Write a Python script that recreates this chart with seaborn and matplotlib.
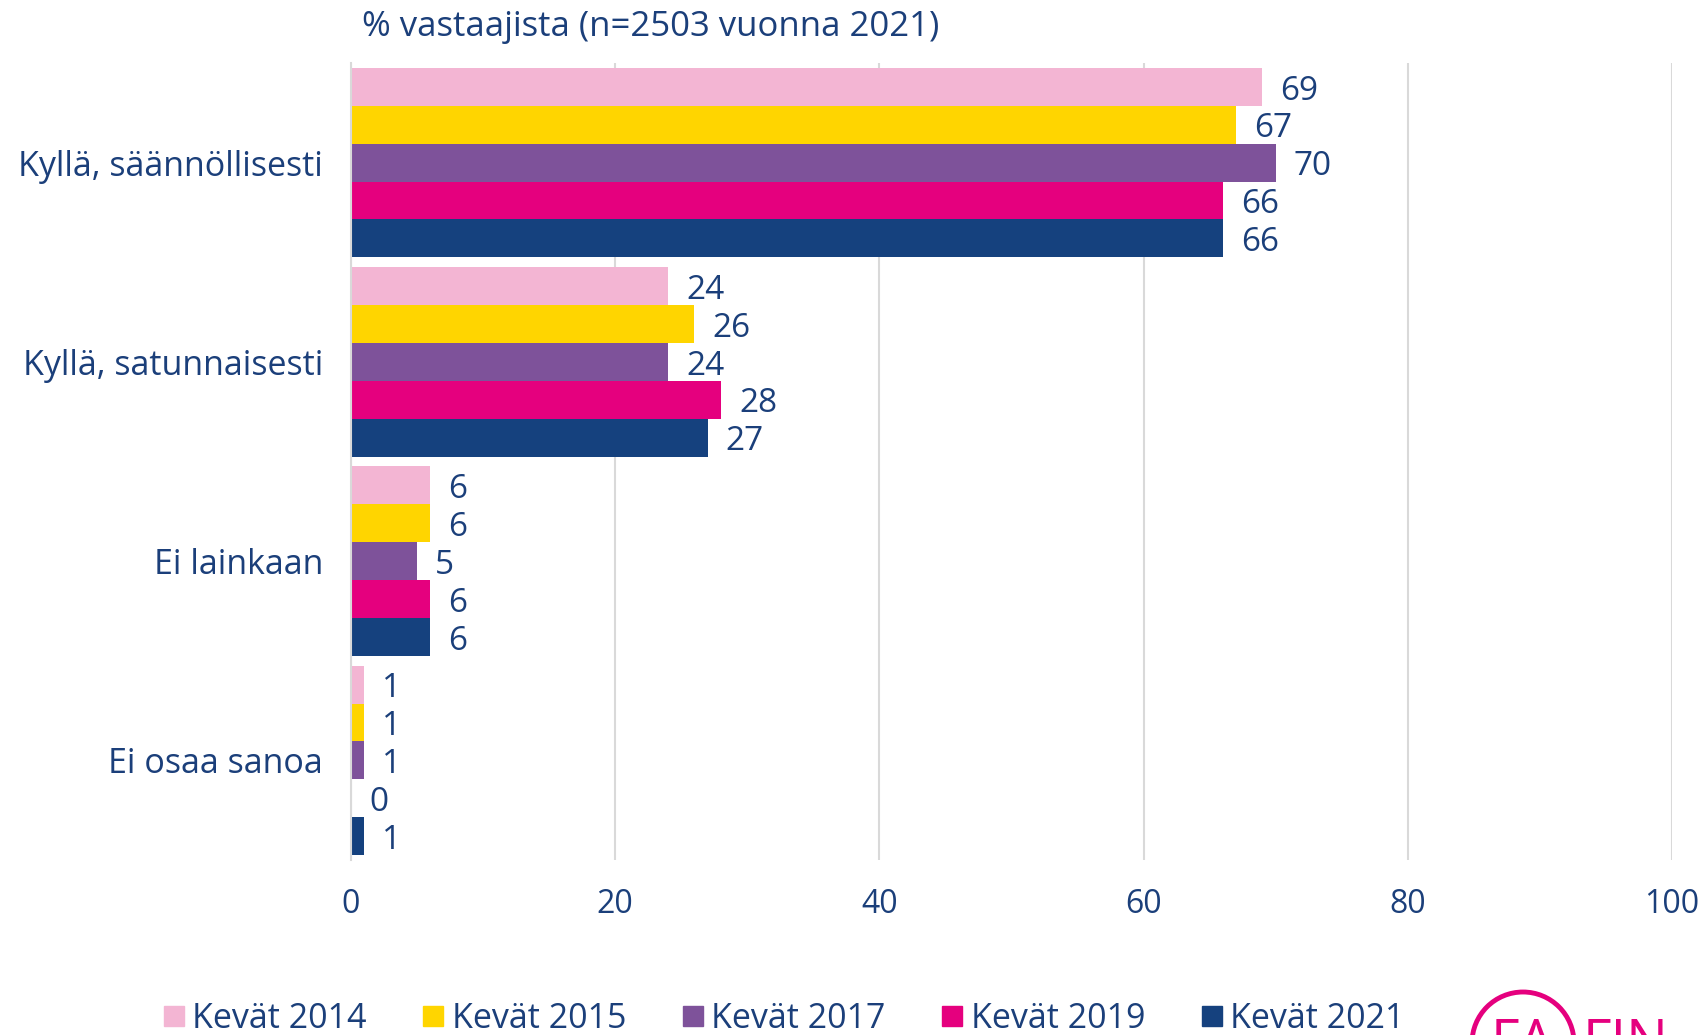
import numpy as np
import pandas as pd
import matplotlib
matplotlib.use("Agg")
import matplotlib.pyplot as plt
import seaborn as sns
from matplotlib.patches import Ellipse
from matplotlib.lines import Line2D

categories = ["Kyllä, säännöllisesti", "Kyllä, satunnaisesti", "Ei lainkaan", "Ei osaa sanoa"]
series = ["Kevät 2014", "Kevät 2015", "Kevät 2017", "Kevät 2019", "Kevät 2021"]
v2014 = [69, 24, 6, 1]
v2015 = [67, 26, 6, 1]
v2017 = [70, 24, 5, 1]
v2019 = [66, 28, 6, 0]
v2021 = [66, 27, 6, 1]
xticks = [0, 20, 40, 60, 80, 100]
title = "% vastaajista (n=2503 vuonna 2021)"

colors = ["#F3B5D3", "#FFD500", "#7E529A", "#E5007E", "#15417E"]
navy = "#1B3F7A"

rows = []
for s, vals in zip(series, [v2014, v2015, v2017, v2019, v2021]):
    for c, v in zip(categories, vals):
        rows.append({"cat": c, "series": s, "val": v})
df = pd.DataFrame(rows)

sns.set_theme(style="white")
plt.rcParams["font.family"] = ["Open Sans", "DejaVu Sans"]

fig = plt.figure(figsize=(17.06, 10.35), dpi=100)
ax = fig.add_axes([351/1706, 1 - 860/1035, (1672-351)/1706, (860-63)/1035])

sns.barplot(data=df, y="cat", x="val", hue="series", order=categories,
            hue_order=series, palette=colors, orient="h", width=0.95,
            ax=ax, legend=False, saturation=1, linewidth=0)

for cont in ax.containers:
    labels = ax.bar_label(cont, padding=13, fontsize=24, color=navy)
    for t in labels:
        t.xyann = (13, -3)

ax.set_xlim(0, 100)
ax.set_ylim(3.5, -0.5)
ax.set_xticks(xticks)
ax.set_xticklabels([str(t) for t in xticks], fontsize=23, color=navy)
ax.tick_params(axis="x", length=0, pad=20)
ax.tick_params(axis="y", length=0, pad=20, labelsize=24.5, labelcolor=navy)
ax.set_xlabel("")
ax.set_ylabel("")
ax.xaxis.grid(True, color="#D9D9D9", linewidth=1.5)
ax.set_axisbelow(True)
for sp in ["top", "right", "bottom"]:
    ax.spines[sp].set_visible(False)
ax.spines["left"].set_color("#D9D9D9")
ax.spines["left"].set_linewidth(1.5)

fig.text(362/1706, 1 - 27/1035, title, fontsize=25, color=navy, ha="left", va="center")

handles = [Line2D([0], [0], marker="s", color="none", markerfacecolor=c,
                  markeredgecolor=c, markersize=15) for c in colors]
fig.legend(handles, series, loc="center left", ncol=5,
           bbox_to_anchor=(160/1706, 1 - 1019/1035), frameon=False,
           fontsize=24.5, labelcolor=navy, handlelength=0.8, handletextpad=0.15,
           columnspacing=1.55, borderaxespad=0, borderpad=0)

pink = "#E5007E"
r = 51
fig.patches.append(Ellipse((1523/1706, 1 - 1043/1035), 2*r/1706, 2*r/1035,
                           transform=fig.transFigure, fill=False,
                           edgecolor=pink, linewidth=3.5))
fig.text(1523/1706, 1 - 1045/1035, "FA", fontsize=40, color=pink,
         ha="center", va="center")
fig.text(1583/1706, 1 - 1045/1035, "FIN", fontsize=40, color=pink,
         ha="left", va="center")

fig.savefig("out.png", dpi=100)
